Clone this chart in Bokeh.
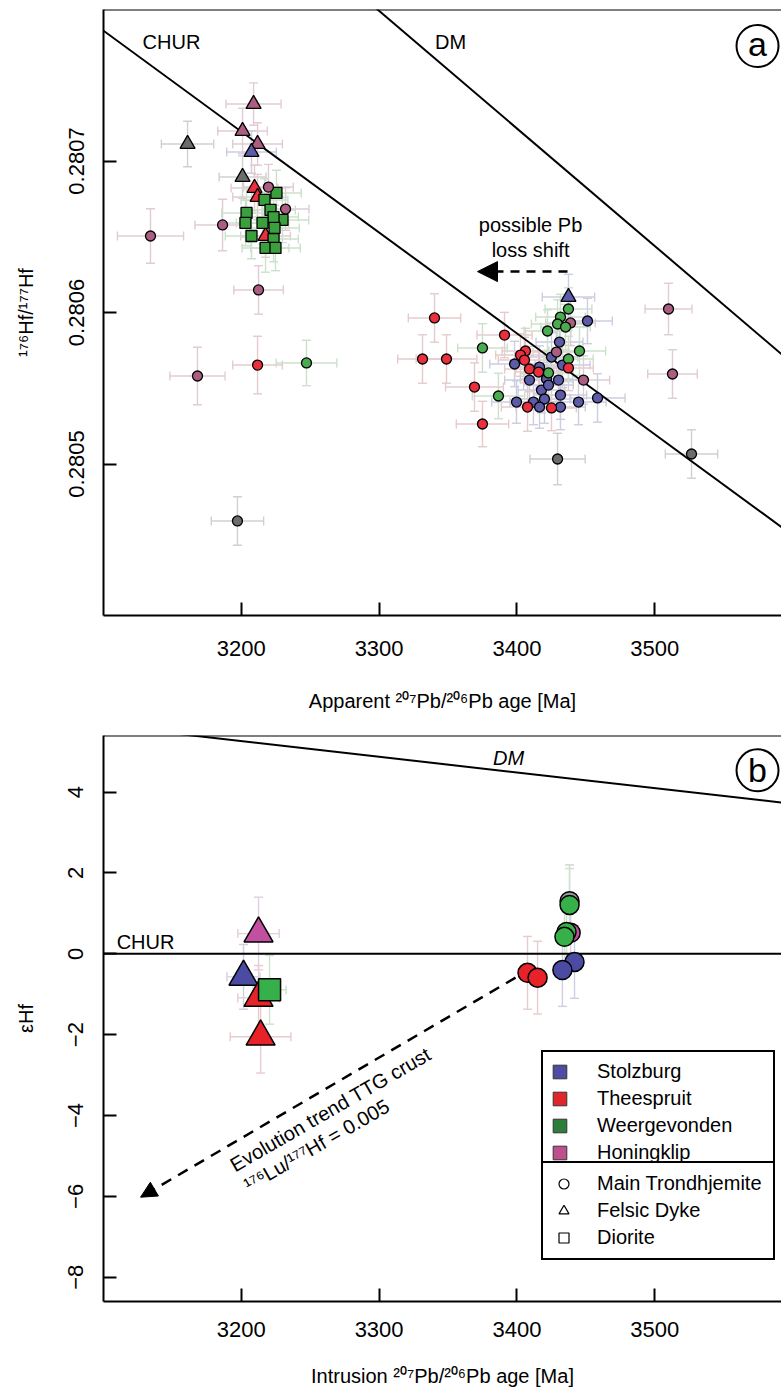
from bokeh.plotting import figure
from bokeh.models import (Range1d, Span, Whisker, TeeHead, ColumnDataSource, Arrow,
                          NormalHead, Legend, LegendItem, FixedTicker, PrintfTickFormatter)
from bokeh.layouts import column
from bokeh.embed import file_html
from bokeh.resources import INLINE
from bokeh.core.properties import value

FONT = "Liberation Sans"

# ---------------- Panel (a): 176Hf/177Hf vs apparent age ----------------
a_circle_age = [
    3451.2, 3430.9, 3425.1, 3398.3, 3433.1, 3416.4, 3409.1, 3421.5, 3430.2, 3417.8,
    3431.6, 3444.7, 3399.7, 3412.0, 3420.0, 3431.6, 3416.4, 3458.5, 3422.9,
    3219.7, 3232.1, 3186.4, 3134.1, 3212.5, 3168.2, 3510.0, 3512.9, 3438.9, 3448.3, 3428.7,
    3375.0, 3386.6, 3247.3, 3437.4, 3431.6, 3429.5, 3435.3, 3422.2, 3445.4, 3437.4, 3422.9,
    3340.2, 3331.5, 3348.9, 3391.0, 3369.2, 3375.0, 3211.8, 3406.2, 3402.6, 3405.5,
    3409.1, 3415.7, 3437.4, 3407.7, 3425.1,
    3197.2, 3429.5, 3526.7]
a_circle_hf = [
    0.2805944, 0.2805805, 0.2805706, 0.2805660, 0.2805653, 0.2805640, 0.2805554, 0.2805561,
    0.2805554, 0.2805488, 0.2805455, 0.2805409, 0.2805409, 0.2805409, 0.2805429, 0.2805376,
    0.2805376, 0.2805436, 0.2805521,
    0.2806828, 0.2806683, 0.2806578, 0.2806505, 0.2806149, 0.2805581, 0.2806023, 0.2805594,
    0.2805931, 0.2805554, 0.2805739,
    0.2805766, 0.2805449, 0.2805667, 0.2806023, 0.2805970, 0.2805924, 0.2805904, 0.2805878,
    0.2805746, 0.2805693, 0.2805601,
    0.2805964, 0.2805693, 0.2805693, 0.2805851, 0.2805508, 0.2805264, 0.2805653, 0.2805746,
    0.2805719, 0.2805686, 0.2805627, 0.2805607, 0.2805634, 0.2805376, 0.2805370,
    0.2804624, 0.2805033, 0.2805066]
a_circle_group = list("SSSSSSSSSSSSSSSSSSS" "HHHHHHHHHHH" "WWWWWWWWWWW" "TTTTTTTTTTTTTTT" "OOO")
a_circle_age_err = [
    18, 17, 19, 18, 20, 17, 18, 19, 18, 17, 19, 20, 18, 17, 19, 18, 17, 20, 18,
    18, 17, 20, 24, 18, 20, 17, 18, 18, 19, 17,
    18, 19, 22, 17, 18, 19, 18, 17, 19, 18, 18,
    19, 18, 22, 20, 21, 19, 18, 17, 18, 19, 18, 17, 18, 19, 18,
    19, 20, 19]
a_circle_hf_err_e5 = [
    1.5, 1.4, 1.6, 1.5, 1.5, 1.4, 1.6, 1.5, 1.4, 1.5, 1.6, 1.5, 1.4, 1.5, 1.6, 1.5, 1.4, 1.6, 1.5,
    1.5, 1.4, 1.7, 1.8, 1.6, 1.9, 1.7, 1.6, 1.5, 1.6, 1.4,
    1.6, 1.5, 1.5, 1.4, 1.5, 1.6, 1.5, 1.4, 1.6, 1.5, 1.5,
    1.6, 1.6, 1.6, 1.5, 1.6, 1.5, 1.9, 1.5, 1.4, 1.5, 1.5, 1.4, 1.5, 1.6, 1.5,
    1.6, 1.7, 1.6]

a_tri_age = [3208.9, 3200.9, 3211.8, 3161.0, 3200.9, 3207.4, 3209.6, 3211.8, 3217.6, 3437.4]
a_tri_hf = [0.2807376, 0.2807198, 0.2807112, 0.2807112, 0.2806894, 0.2807059,
            0.2806822, 0.2806762, 0.2806505, 0.2806102]
a_tri_group = list("HHHOOSTTTS")
a_tri_age_err = [20, 18, 18, 19, 17, 18, 17, 18, 18, 19]
a_tri_hf_err_e5 = [1.4, 1.5, 1.4, 1.5, 1.4, 1.4, 1.5, 1.5, 1.4, 1.5]

a_sq_age = [3225.5, 3216.8, 3221.2, 3229.9, 3203.8, 3203.0, 3223.4, 3207.4, 3223.4,
            3217.6, 3224.8, 3215.4, 3224.1]
a_sq_hf = [0.2806789, 0.2806743, 0.2806677, 0.2806611, 0.2806657, 0.2806591, 0.2806630,
           0.2806505, 0.2806485, 0.2806426, 0.2806426, 0.2806591, 0.2806558]
a_sq_group = list("WWWWWWWWWWWWW")
a_sq_age_err = [18, 17, 18, 19, 18, 17, 18, 19, 18, 17, 18, 19, 18]
a_sq_hf_err_e5 = [1.5, 1.4, 1.5, 1.5, 1.6, 1.5, 1.4, 1.5, 1.5, 1.6, 1.5, 1.4, 1.5]

a_chur_age = [3100, 3600]
a_chur_hf = [0.280786, 0.280453]
a_dm_age = [3250, 3600]
a_dm_hf = [0.2808379, 0.2805663]
a_yticks = [0.2805, 0.2806, 0.2807]
a_xticks = [3200, 3300, 3400, 3500]

# ---------------- Panel (b): epsilon Hf vs intrusion age ----------------
b_circle_age = [3438.2, 3438.2, 3439.0, 3436.0, 3434.5, 3441.8, 3433.0, 3407.7, 3415.0]
b_circle_eps = [1.30, 1.21, 0.52, 0.54, 0.42, -0.20, -0.40, -0.47, -0.59]
b_circle_group = list("OWHWWSSTT")
b_circle_age_err = [5, 5, 5, 5, 5, 5, 5, 6, 6]
b_circle_eps_err = [0.9, 0.9, 0.9, 0.9, 0.9, 0.9, 0.9, 0.9, 0.9]

b_tri_age = [3212.5, 3201.6, 3212.5, 3214.0]
b_tri_eps = [0.50, -0.57, -1.09, -2.05]
b_tri_group = list("HSTT")
b_tri_age_err = [15, 12, 15, 22]
b_tri_eps_err = [0.9, 0.8, 0.8, 0.9]

b_sq_age = [3220.5]
b_sq_eps = [-0.89]
b_sq_group = list("W")
b_sq_age_err = [12]
b_sq_eps_err = [0.85]

b_chur_age = [3100, 3600]
b_chur_eps = [0.0, 0.0]
b_dm_age = [3100, 3600]
b_dm_eps = [5.65, 3.71]
b_yticks = [-8, -6, -4, -2, 0, 2, 4]

legend_groups = ["Stolzburg", "Theespruit", "Weergevonden", "Honingklip"]
legend_shapes = ["Main Trondhjemite", "Felsic Dyke", "Diorite"]

# ---------------- styles ----------------
A_COL = {"S": "#5b5ba8", "T": "#ea2f3d", "W": "#4bab4f", "H": "#ac5d82", "O": "#6c6c6c"}
A_SQ_COL = {"W": "#3b9f3e"}
A_ERR = {"S": "#cdcde0", "T": "#e6cbcd", "W": "#cce0cc", "H": "#e0cbd6", "O": "#d0d0d0"}
B_COL = {"S": "#4b4ba3", "T": "#e82229", "W": "#38b04a", "H": "#c24fa0", "O": "#9a9a9a"}
B_ERR = {"S": "#cfcfe2", "T": "#e8cccc", "W": "#cce2cc", "H": "#e4cce0", "O": "#d2d2d2"}
LEG_COL = {"Stolzburg": "#4e4ea0", "Theespruit": "#e1262b",
           "Weergevonden": "#2e7d3a", "Honingklip": "#c0508c"}
X_END = 3592
OFF_X, OFF_Y = 2000, -100   # legend proxy glyphs sit far outside the visible ranges


def style_axes(p, tick_font="22px"):
    p.xgrid.visible = False
    p.ygrid.visible = False
    for ax in (p.xaxis[0], p.yaxis[0]):
        ax.axis_line_width = 2
        ax.axis_line_color = "black"
        ax.major_tick_line_width = 2
        ax.major_tick_line_color = "black"
        ax.major_tick_in = 13
        ax.major_tick_out = 0
        ax.minor_tick_line_color = None
        ax.major_label_text_font = FONT
        ax.major_label_text_font_size = tick_font
        ax.major_label_text_color = "black"
        ax.axis_label_text_font = FONT
        ax.axis_label_text_font_size = "20px"
        ax.axis_label_text_font_style = "normal"
        ax.axis_label_text_color = "black"
    p.yaxis[0].major_label_orientation = "vertical"
    p.yaxis[0].major_label_standoff = 20
    p.yaxis[0].axis_label_standoff = 29


def add_errors(p, ages, vals, aerr, verr, groups, colors, head):
    for g in sorted(set(groups)):
        idx = [i for i, gg in enumerate(groups) if gg == g]
        src = ColumnDataSource(dict(
            x=[ages[i] for i in idx], y=[vals[i] for i in idx],
            xl=[ages[i] - aerr[i] for i in idx], xu=[ages[i] + aerr[i] for i in idx],
            yl=[vals[i] - verr[i] for i in idx], yu=[vals[i] + verr[i] for i in idx]))
        c = colors[g]
        for dim, base, lo, up in (("width", "y", "xl", "xu"), ("height", "x", "yl", "yu")):
            w = Whisker(source=src, base=base, lower=lo, upper=up, dimension=dim,
                        line_color=c, line_width=1.4, level="underlay",
                        upper_head=TeeHead(size=head, line_color=c, line_width=1.4),
                        lower_head=TeeHead(size=head, line_color=c, line_width=1.4))
            p.add_layout(w)


def add_points(p, ages, vals, groups, colors, marker, size, lw):
    src = ColumnDataSource(dict(x=ages, y=vals, c=[colors[g] for g in groups]))
    p.scatter("x", "y", source=src, marker=marker, size=size, fill_color="c",
              line_color="black", line_width=lw)


def add_text(p, x, y, t, size="20px", style="normal", angle=0.0, align="center"):
    p.text(x=[x], y=[y], text=[t], text_font=value(FONT), text_font_size=size,
           text_font_style=style, text_align=align, text_baseline="middle",
           text_color="black", angle=angle)


# ================= Figure (a) =================
p1 = figure(width=781, height=720, x_range=Range1d(3100, X_END),
            y_range=Range1d(0.2804, 0.2808), output_backend="svg",
            toolbar_location=None, min_border_left=103, min_border_right=0,
            min_border_top=9, min_border_bottom=105, outline_line_color=None,
            background_fill_color="white", border_fill_color="white")
style_axes(p1)
p1.yaxis[0].ticker = FixedTicker(ticks=a_yticks)
p1.yaxis[0].formatter = PrintfTickFormatter(format="%.4f")
p1.xaxis[0].ticker = FixedTicker(ticks=a_xticks)
p1.xaxis[0].major_label_standoff = 25
p1.xaxis[0].axis_label_standoff = 31
p1.yaxis[0].axis_label = "\u00b9\u2077\u2076Hf/\u00b9\u2077\u2077Hf"
p1.xaxis[0].axis_label = "Apparent \u00b2\u2070\u2077Pb/\u00b2\u2070\u2076Pb age [Ma]"
p1.add_layout(Span(location=0.2808, dimension="width", line_color="black", line_width=2))

p1.line(a_chur_age, a_chur_hf, line_color="black", line_width=2)
p1.line(a_dm_age, a_dm_hf, line_color="black", line_width=2)

add_errors(p1, a_circle_age, a_circle_hf, a_circle_age_err,
           [e * 1e-5 for e in a_circle_hf_err_e5], a_circle_group, A_ERR, 9)
add_errors(p1, a_tri_age, a_tri_hf, a_tri_age_err,
           [e * 1e-5 for e in a_tri_hf_err_e5], a_tri_group, A_ERR, 9)
add_errors(p1, a_sq_age, a_sq_hf, a_sq_age_err,
           [e * 1e-5 for e in a_sq_hf_err_e5], a_sq_group, A_ERR, 9)

add_points(p1, a_tri_age, a_tri_hf, a_tri_group, A_COL, "triangle", 15, 1.3)
add_points(p1, a_sq_age, a_sq_hf, a_sq_group, A_SQ_COL, "square", 11, 1.3)
add_points(p1, a_circle_age, a_circle_hf, a_circle_group, A_COL, "circle", 10, 1.3)

A_CHUR_LBL = (3149.3, 0.2807785)
A_DM_LBL = (3351.8, 0.2807785)
A_PB_LBL1 = (3409.9, 0.2806578)
A_PB_LBL2 = (3409.9, 0.2806413)
A_ARROW = (3436.7, 0.280627, 3371.4, 0.280627)
A_TAG = (3574.6, 0.2807759)

add_text(p1, *A_CHUR_LBL, "CHUR")
add_text(p1, *A_DM_LBL, "DM")
add_text(p1, *A_PB_LBL1, "possible Pb")
add_text(p1, *A_PB_LBL2, "loss shift")
p1.add_layout(Arrow(end=NormalHead(size=20, fill_color="black", line_color="black", line_width=1),
                    x_start=A_ARROW[0], y_start=A_ARROW[1], x_end=A_ARROW[2], y_end=A_ARROW[3],
                    line_color="black", line_width=2.5, line_dash="9 7"))
p1.scatter([A_TAG[0]], [A_TAG[1]], marker="circle", size=42, fill_color=None,
           line_color="black", line_width=2)
add_text(p1, A_TAG[0], A_TAG[1] + 0.0000012, "a", size="34px")

# ================= Figure (b) =================
p2 = figure(width=781, height=669, x_range=Range1d(3100, X_END),
            y_range=Range1d(-8.6, 5.4), output_backend="svg",
            toolbar_location=None, min_border_left=103, min_border_right=0,
            min_border_top=15, min_border_bottom=87, outline_line_color=None,
            background_fill_color="white", border_fill_color="white")
style_axes(p2)
p2.yaxis[0].ticker = FixedTicker(ticks=b_yticks)
p2.yaxis[0].major_label_overrides = {t: (str(t) if t >= 0 else "\u2212" + str(-t)) for t in b_yticks}
p2.xaxis[0].ticker = FixedTicker(ticks=a_xticks)
p2.xaxis[0].major_label_standoff = 20
p2.xaxis[0].axis_label_standoff = 25
p2.yaxis[0].axis_label = "\u03b5Hf"
p2.xaxis[0].axis_label = "Intrusion \u00b2\u2070\u2077Pb/\u00b2\u2070\u2076Pb age [Ma]"
p2.add_layout(Span(location=5.4, dimension="width", line_color="black", line_width=2))

p2.line(b_chur_age, b_chur_eps, line_color="black", line_width=2)
p2.line(b_dm_age, b_dm_eps, line_color="black", line_width=2)

add_errors(p2, b_circle_age, b_circle_eps, b_circle_age_err, b_circle_eps_err,
           b_circle_group, B_ERR, 9)
add_errors(p2, b_tri_age, b_tri_eps, b_tri_age_err, b_tri_eps_err, b_tri_group, B_ERR, 9)
add_errors(p2, b_sq_age, b_sq_eps, b_sq_age_err, b_sq_eps_err, b_sq_group, B_ERR, 9)

add_points(p2, b_circle_age, b_circle_eps, b_circle_group, B_COL, "circle", 19, 1.5)
add_points(p2, b_tri_age, b_tri_eps, b_tri_group, B_COL, "triangle", 29, 1.5)
add_points(p2, b_sq_age, b_sq_eps, b_sq_group, B_COL, "square", 22, 1.5)

B_CHUR_LBL = (3130.5, 0.30)
B_DM_LBL = (3393.9, 4.84)
B_TAG = (3574.6, 4.54)
B_ARROW = (3399.0, -0.59, 3126.9, -6.02)
B_TREND1 = (3264.7, -3.85)
B_TREND2 = (3254.6, -4.74)
TREND_ANGLE = 0.524

add_text(p2, *B_CHUR_LBL, "CHUR")
add_text(p2, *B_DM_LBL, "DM", style="italic")
p2.scatter([B_TAG[0]], [B_TAG[1]], marker="circle", size=42, fill_color=None,
           line_color="black", line_width=2)
add_text(p2, B_TAG[0], B_TAG[1], "b", size="34px")
p2.add_layout(Arrow(end=NormalHead(size=16, fill_color="black", line_color="black", line_width=1),
                    x_start=B_ARROW[0], y_start=B_ARROW[1], x_end=B_ARROW[2], y_end=B_ARROW[3],
                    line_color="black", line_width=2.5, line_dash="11 8"))
add_text(p2, *B_TREND1, "Evolution trend TTG crust", angle=TREND_ANGLE)
add_text(p2, *B_TREND2, "\u00b9\u2077\u2076Lu/\u00b9\u2077\u2077Hf = 0.005", angle=TREND_ANGLE)

# legend proxies (one off-screen point each, so the legend can draw their glyphs)
items1 = []
for g in legend_groups:
    r = p2.quad(left=[OFF_X], right=[OFF_X + 1], top=[OFF_Y + 1], bottom=[OFF_Y],
                fill_color=LEG_COL[g], line_color="#333333", line_width=1)
    items1.append(LegendItem(label=g, renderers=[r]))
items2 = []
for lab, mk in zip(legend_shapes, ["circle", "triangle", "square"]):
    r = p2.scatter(x=[OFF_X], y=[OFF_Y], marker=mk, size=9, fill_color=None,
                   line_color="black", line_width=1.2)
    items2.append(LegendItem(label=lab, renderers=[r]))

common = dict(border_line_color="black", border_line_width=2, border_line_alpha=1.0,
              background_fill_color="white", background_fill_alpha=1.0,
              label_text_font=FONT, label_text_font_size="20px",
              label_text_color="black", margin=0, label_width=168)
leg1 = Legend(items=items1, location=(438, 127), padding=8, spacing=4,
              glyph_width=17, glyph_height=17, label_height=17, label_standoff=29, **common)
leg2 = Legend(items=items2, location=(438, 41), padding=8, spacing=2,
              glyph_width=25, glyph_height=25, label_height=25, label_standoff=21, **common)
p2.add_layout(leg1)
p2.add_layout(leg2)

layout = column(p1, p2, spacing=0)
open("out.html", "w").write(file_html(layout, INLINE))
